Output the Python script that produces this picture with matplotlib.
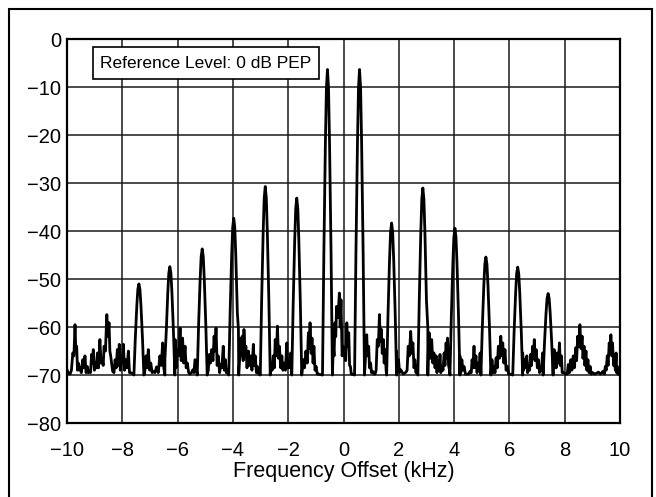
import numpy as np
import matplotlib
matplotlib.use("Agg")
import matplotlib.pyplot as plt
from matplotlib.patches import Rectangle

plt.rcParams['font.family'] = ['Liberation Sans', 'DejaVu Sans']

# intermodulation products (centre in kHz, top in dB PEP)
peak_khz = [-7.40, -6.28, -5.11, -3.97, -2.83, -1.69, -0.58,
            0.58, 1.74, 2.87, 4.03, 5.15, 6.30, 7.40]
peak_db = [-51.0, -47.4, -43.7, -37.3, -30.7, -33.1, -6.3,
           -6.3, -38.3, -31.0, -39.4, -45.4, -47.5, -53.0]

# noise between the products, left of 0 kHz
noise_left_khz = [-10.0, -9.89, -9.79, -9.71, -9.65, -9.59, -9.53, -9.43, -9.35, -9.27,
                  -9.19, -9.11, -9.05, -8.98, -8.90, -8.81, -8.73, -8.66, -8.56, -8.48,
                  -8.42, -8.35, -8.26, -8.18, -8.11, -8.04, -7.96, -7.88, -7.78, -7.70,
                  -7.60, -7.24, -7.14, -7.06, -6.97, -6.88, -6.76, -6.64, -6.54, -6.46,
                  -6.09, -6.01, -5.91, -5.82, -5.73, -5.65, -5.55, -5.45, -5.37,
                  -4.94, -4.85, -4.77, -4.68, -4.61, -4.53, -4.44, -4.35, -4.27, -4.20,
                  -3.80, -3.72, -3.66, -3.60, -3.53, -3.44, -3.36, -3.26, -3.19, -3.12, -3.02,
                  -2.63, -2.54, -2.47, -2.39, -2.32, -2.23, -2.15, -2.05, -1.98, -1.91,
                  -1.45, -1.36, -1.27, -1.21, -1.14, -1.07, -0.99, -0.91,
                  -0.37, -0.31, -0.25, -0.15, -0.09, -0.02]
noise_left_db = [-68.9, -69.8, -65.4, -59.5, -64.0, -67.5, -68.9, -66.8, -66.0, -68.2,
                 -69.2, -65.7, -64.7, -67.8, -65.4, -62.6, -66.8, -64.0, -57.4, -59.1,
                 -66.0, -69.2, -66.8, -64.7, -63.6, -67.5, -63.6, -66.8, -65.0, -69.5,
                 -69.8, -66.8, -66.0, -64.7, -67.5, -69.2, -68.3, -66.0, -63.3, -66.8,
                 -62.6, -64.7, -60.2, -62.3, -64.0, -67.5, -69.8, -68.9, -66.8,
                 -67.5, -65.7, -64.7, -61.9, -60.2, -66.0, -67.8, -64.0, -66.8, -68.9,
                 -60.5, -62.3, -61.9, -60.5, -64.0, -65.0, -66.0, -63.6, -66.0, -68.2, -69.8,
                 -67.5, -66.0, -62.6, -59.8, -64.0, -66.0, -67.5, -63.3, -66.8, -65.4,
                 -66.8, -65.0, -61.2, -59.1, -62.3, -64.0, -68.2, -69.8,
                 -64.0, -59.1, -55.7, -52.9, -54.3, -64.0]

# noise between the products, right of 0 kHz
noise_right_khz = [0.04, 0.12, 0.19, 0.25, 0.31,
                   0.84, 0.91, 0.98, 1.05, 1.14, 1.22, 1.30, 1.37, 1.44, 1.51, 1.57,
                   1.92, 1.99, 2.07, 2.16, 2.26, 2.34, 2.43, 2.51, 2.58, 2.65,
                   3.05, 3.10, 3.19, 3.27, 3.35, 3.42, 3.49, 3.56, 3.64, 3.71, 3.76, 3.83,
                   4.21, 4.28, 4.36, 4.46, 4.58, 4.65, 4.72, 4.79, 4.87, 4.94,
                   5.32, 5.37, 5.44, 5.52, 5.60, 5.69, 5.76, 5.84, 5.93, 6.02,
                   6.48, 6.55, 6.63, 6.70, 6.77, 6.84, 6.90, 6.97, 7.05, 7.13, 7.20,
                   7.57, 7.62, 7.66, 7.73, 7.81, 7.88, 7.95, 8.05, 8.13, 8.22,
                   8.31, 8.40, 8.47, 8.55, 8.63, 8.70, 8.77, 8.84, 8.92, 9.01,
                   9.09, 9.22, 9.30, 9.39, 9.47, 9.54, 9.61, 9.67, 9.73, 9.81,
                   9.86, 9.90, 9.95, 10.0]
noise_right_db = [-66.0, -59.1, -61.2, -68.2, -69.8,
                  -61.6, -64.0, -67.5, -69.2, -69.8, -62.6, -57.4, -60.5, -62.6, -64.7, -68.2,
                  -65.0, -66.8, -68.9, -69.8, -69.4, -64.0, -60.9, -63.3, -66.8, -68.9,
                  -60.2, -61.2, -62.6, -65.4, -66.0, -67.1, -65.7, -68.2, -65.4, -63.3, -62.3, -68.9,
                  -66.0, -66.8, -68.2, -69.8, -69.2, -66.8, -64.0, -66.0, -67.5, -65.4,
                  -67.5, -66.8, -68.2, -66.4, -64.0, -61.9, -63.3, -64.7, -68.2, -69.8,
                  -65.4, -66.8, -66.0, -68.2, -65.7, -64.0, -62.6, -64.7, -66.8, -68.2, -65.4,
                  -62.6, -64.7, -66.0, -65.4, -63.3, -66.0, -69.5, -69.8, -67.8, -66.8,
                  -66.0, -64.3, -61.9, -59.5, -61.9, -64.0, -65.0, -66.8, -68.2, -69.5,
                  -69.8, -69.4, -69.8, -69.2, -68.2, -66.0, -63.3, -61.6, -63.3, -66.8,
                  -65.4, -68.2, -69.8, -70.0]

# the dips in between, which make the noise look solid black
dips_left_khz = [-9.96, -9.84, -9.75, -9.68, -9.62, -9.48, -9.39, -9.31, -9.23, -9.15,
                 -9.08, -9.01, -8.94, -8.86, -8.77, -8.69, -8.61, -8.52, -8.45, -8.30,
                 -8.22, -8.14, -8.07, -8.00, -7.92, -7.83, -7.74,
                 -7.19, -7.10, -7.01, -6.92, -6.82, -6.70, -6.59, -6.50,
                 -6.05, -5.96, -5.87, -5.78, -5.69, -5.60, -5.50, -5.41,
                 -4.89, -4.81, -4.72, -4.65, -4.57, -4.48, -4.40, -4.31, -4.24,
                 -3.76, -3.69, -3.63, -3.56, -3.49, -3.40, -3.31, -3.23, -3.15, -3.07,
                 -2.58, -2.50, -2.43, -2.35, -2.27, -2.19, -2.10, -2.02, -1.94, -1.88,
                 -1.41, -1.31, -1.24, -1.17, -1.10, -1.03, -0.95,
                 -0.34, -0.28, -0.20, -0.12, -0.05]
dips_left_db = [-69.5, -69.0, -66.0, -65.0, -69.0, -69.5, -68.5, -69.5, -69.5, -69.5,
                -67.5, -69.0, -68.5, -68.5, -67.5, -68.0, -65.0, -62.0, -65.0, -69.5,
                -68.5, -68.0, -69.0, -67.5, -69.0, -68.5, -69.5,
                -69.5, -68.5, -69.0, -69.5, -69.5, -69.5, -68.0, -68.5,
                -68.5, -66.0, -67.0, -67.5, -68.5, -69.5, -69.5, -69.5,
                -69.0, -67.5, -67.0, -65.0, -68.0, -69.5, -68.5, -69.0, -69.5,
                -67.0, -66.0, -67.0, -65.5, -68.5, -68.0, -69.0, -68.0, -69.5, -69.8,
                -69.0, -68.5, -66.0, -66.5, -68.5, -69.0, -69.0, -68.5, -68.5, -69.5,
                -68.5, -67.5, -64.5, -65.5, -67.5, -69.0, -69.8,
                -66.0, -62.0, -58.0, -60.0, -66.0]
dips_right_khz = [0.08, 0.15, 0.22, 0.28,
                  0.87, 0.94, 1.01, 1.10, 1.18, 1.26, 1.33, 1.40, 1.47, 1.54,
                  1.95, 2.03, 2.30, 2.38, 2.47, 2.55, 2.62,
                  3.07, 3.14, 3.23, 3.31, 3.38, 3.46, 3.52, 3.60, 3.67, 3.74, 3.80,
                  4.24, 4.32, 4.41, 4.52, 4.62, 4.68, 4.75, 4.83, 4.90,
                  5.34, 5.41, 5.48, 5.56, 5.64, 5.72, 5.80, 5.88, 5.97,
                  6.51, 6.59, 6.66, 6.73, 6.80, 6.87, 6.93, 7.01, 7.09, 7.16,
                  7.59, 7.64, 7.69, 7.77, 7.84, 7.91,
                  8.09, 8.17, 8.26, 8.35, 8.43, 8.51, 8.59, 8.66, 8.73, 8.80, 8.88, 8.96,
                  9.43, 9.50, 9.57, 9.64, 9.70, 9.77, 9.83, 9.88, 9.93]
dips_right_db = [-67.0, -64.0, -68.0, -69.8,
                 -66.0, -68.5, -69.5, -69.8, -69.0, -64.0, -63.0, -65.5, -67.5, -69.0,
                 -69.0, -69.5, -69.0, -66.0, -65.5, -68.5, -69.5,
                 -64.5, -66.5, -67.5, -68.5, -69.5, -69.0, -69.5, -69.0, -68.0, -66.5, -68.0,
                 -69.5, -69.0, -69.8, -69.8, -69.5, -68.5, -68.5, -69.5, -69.0,
                 -69.0, -69.5, -69.5, -68.5, -66.5, -66.0, -67.5, -69.0, -69.8,
                 -69.0, -68.5, -69.5, -69.0, -68.0, -66.5, -67.0, -68.5, -69.5, -69.0,
                 -67.0, -68.5, -68.5, -67.5, -68.0, -69.5,
                 -69.8, -69.5, -69.0, -68.5, -67.0, -64.0, -64.5, -66.5, -68.0, -69.0, -69.5, -69.8,
                 -69.8, -69.0, -68.0, -65.5, -66.0, -68.0, -69.0, -69.5, -69.8]

floor_db = -70.0

# shape of one product on the analyser trace (offset kHz, fraction of depth)
shape_off = np.array([-0.18, -0.13, -0.075, -0.038, 0.0, 0.038, 0.075, 0.13, 0.18])
shape_drop = np.array([1.0, 0.6, 0.24, 0.06, 0.0, 0.06, 0.24, 0.6, 1.0])

pk_f = np.array(peak_khz)
pk_d = np.array(peak_db)
trace_f = [fc + shape_off for fc in pk_f]
trace_d = [top - shape_drop * (top - floor_db) for top in pk_d]

noise_f = np.array(noise_left_khz + noise_right_khz + dips_left_khz + dips_right_khz)
noise_d = np.array(noise_left_db + noise_right_db + dips_left_db + dips_right_db)
keep = np.min(np.abs(noise_f[:, None] - pk_f[None, :]), axis=1) > 0.17
trace_f.append(noise_f[keep])
trace_d.append(noise_d[keep])

f = np.concatenate(trace_f)
d = np.concatenate(trace_d)
order = np.argsort(f, kind='stable')
f, d = f[order], d[order]

fig = plt.figure(figsize=(6.56, 4.97), dpi=100)
ax = fig.add_axes([67 / 656, 1 - 423 / 497, 553 / 656, 383.7 / 497])

ax.plot(f, d, color='black', lw=2.0, solid_joinstyle='round', zorder=3)

ax.set_xlim(-10, 10)
ax.set_ylim(-80, 0)
ax.set_xticks(np.arange(-10, 11, 2))
ax.set_yticks(np.arange(-80, 1, 10))
ax.grid(True, color='#1a1a1a', lw=1.1)
ax.set_axisbelow(True)
for s in ax.spines.values():
    s.set_linewidth(1.6)
ax.tick_params(axis='both', length=0, labelsize=14.5)
ax.tick_params(axis='x', pad=13)
ax.tick_params(axis='y', pad=4)
ax.set_xlabel('Frequency Offset (kHz)', fontsize=15.5, labelpad=1)

# reference level box
ax.add_patch(Rectangle((26 / 553, 1 - 40 / 383.7), 226 / 553, 32 / 383.7,
                       transform=ax.transAxes, facecolor='white', edgecolor='black',
                       lw=1.2, zorder=4))
ax.text(139 / 553, 1 - 24 / 383.7, 'Reference Level: 0 dB PEP', transform=ax.transAxes,
        ha='center', va='center', fontsize=12.5, zorder=5)

# outer frame round the whole figure
fig.add_artist(Rectangle((9 / 656, -0.05), 643 / 656, 1 - 9 / 497 + 0.05,
                         transform=fig.transFigure, fill=False, edgecolor='black',
                         lw=1.5, clip_on=False))

fig.savefig('out.png', dpi=100)
